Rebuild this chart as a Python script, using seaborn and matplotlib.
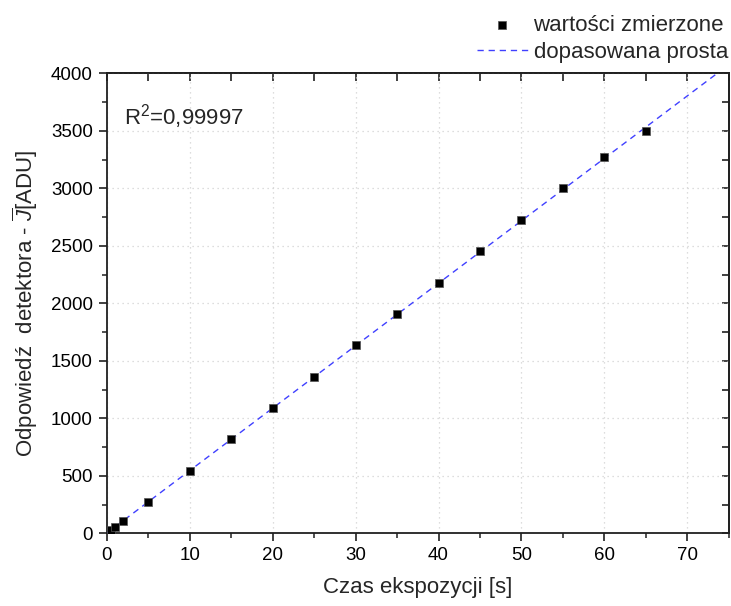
import numpy as np
import pandas as pd
import matplotlib
matplotlib.use("Agg")
import matplotlib.pyplot as plt
import seaborn as sns
from matplotlib.ticker import MultipleLocator

# Measured detector response vs exposure time
czas = [0.5, 1, 2, 5, 10, 15, 20, 25, 30, 35, 40, 45, 50, 55, 60, 65]
odpowiedz = [27, 53, 106, 270, 540, 820, 1090, 1362, 1634, 1905, 2178, 2452, 2724, 3002, 3268, 3500]

x_ticks = [0, 10, 20, 30, 40, 50, 60, 70]
y_ticks = [0, 500, 1000, 1500, 2000, 2500, 3000, 3500, 4000]

# Linear fit of the measurements
a, b = np.polyfit(czas, odpowiedz, 1)
x_fit = np.array([0, 75])
fit = pd.DataFrame({"x": x_fit, "y": a * x_fit + b})
dane = pd.DataFrame({"x": czas, "y": odpowiedz})

sns.set_theme(style="white")
plt.rcParams["font.family"] = ["Liberation Sans", "DejaVu Sans"]
plt.rcParams["mathtext.fontset"] = "custom"
plt.rcParams["mathtext.rm"] = "Liberation Sans"
plt.rcParams["mathtext.it"] = "Liberation Sans:italic"

fig = plt.figure(figsize=(7.31, 6.06), dpi=100)
ax = fig.add_axes([0.146, 0.120, 0.851, 0.759])

ax.grid(True, which="major", color="#d2d2d2", linestyle=(0, (1, 3)), linewidth=0.9)
ax.set_axisbelow(True)

sns.lineplot(data=fit, x="x", y="y", ax=ax, color="#4040ff", linewidth=1.0,
             linestyle=(0, (4.5, 3.5)), label="dopasowana prosta", zorder=3)
sns.scatterplot(data=dane, x="x", y="y", ax=ax, marker="s", s=28, color="black",
                edgecolor="#555555", linewidth=0.5, label="wartości zmierzone", zorder=4)

ax.set_xlim(0, 75)
ax.set_ylim(0, 4000)
ax.set_xticks(x_ticks)
ax.set_yticks(y_ticks)
ax.xaxis.set_minor_locator(MultipleLocator(5))
ax.yaxis.set_minor_locator(MultipleLocator(250))

for sp in ax.spines.values():
    sp.set_linewidth(1.3)
    sp.set_color("#202020")

ax.tick_params(which="major", direction="out", length=6, width=1.2, labelsize=13.5,
               colors="#202020", labelcolor="black", pad=4)
ax.tick_params(which="minor", direction="out", length=3.5, width=1.1, colors="#202020")
ax.tick_params(bottom=True, left=True, which="both")

# mirrored ticks on top and right
top = ax.secondary_xaxis("top")
top.set_xticks(x_ticks)
top.xaxis.set_minor_locator(MultipleLocator(5))
top.tick_params(which="both", direction="in", length=6, width=1.2, labeltop=False,
                colors="#202020")
top.tick_params(which="minor", length=6)
top.spines["top"].set_linewidth(1.3)
right = ax.secondary_yaxis("right")
right.set_yticks(y_ticks)
right.yaxis.set_minor_locator(MultipleLocator(250))
right.tick_params(which="both", direction="in", length=5, width=1.2, labelright=False,
                  colors="#202020")
right.spines["right"].set_linewidth(1.3)

ax.set_xlabel("Czas ekspozycji [s]", fontsize=16, labelpad=9)
ax.set_ylabel(r"Odpowiedź  detektora - $\overline{\mathit{J}}$[ADU]", fontsize=16, labelpad=8)

ax.text(0.028, 0.905, r"R$^{2}$=0,99997", transform=ax.transAxes, fontsize=16,
        ha="left", va="center")

handles, labels = ax.get_legend_handles_labels()
order = [labels.index("wartości zmierzone"), labels.index("dopasowana prosta")]
ax.get_legend().remove()
fig.legend([handles[i] for i in order], [labels[i] for i in order],
           loc="upper right", bbox_to_anchor=(1.014, 0.998), frameon=False,
           fontsize=16, handlelength=2.3, handletextpad=0.25, labelspacing=0.3,
           borderaxespad=0.2)

fig.savefig("out.png", dpi=100)
